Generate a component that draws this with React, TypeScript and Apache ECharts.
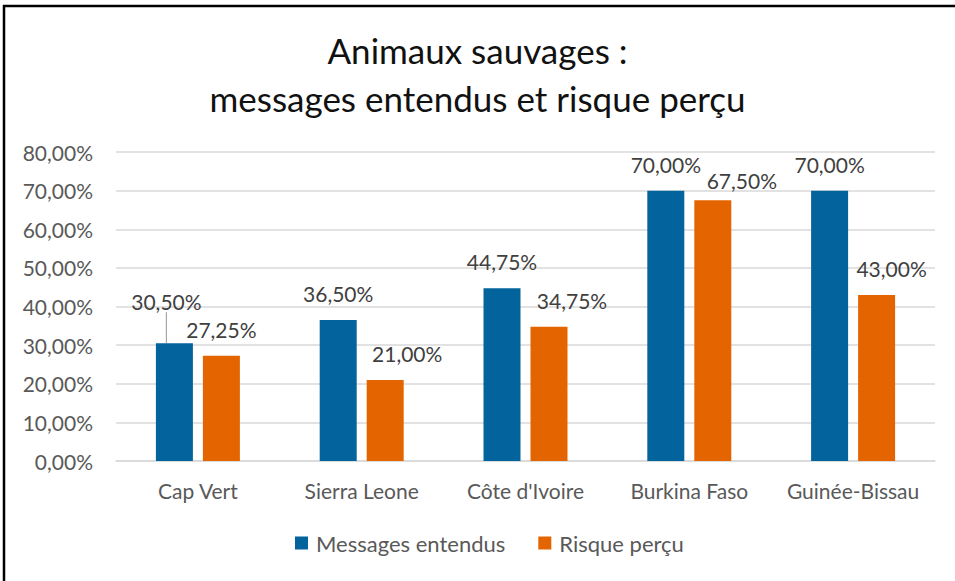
import React, { useEffect, useRef } from "react";
import * as echarts from "echarts";

const categories = ["Cap Vert", "Sierra Leone", "Côte d'Ivoire", "Burkina Faso", "Guinée-Bissau"];
const messagesEntendus = [30.5, 36.5, 44.75, 70, 70];
const risquePercu = [27.25, 21, 34.75, 67.5, 43];
const seriesNames = ["Messages entendus", "Risque perçu"];
const titleText = "Animaux sauvages :\nmessages entendus et risque perçu";

const FONT = "Lato, 'Open Sans', sans-serif";
const fmt = (v: number) => v.toFixed(2).replace(".", ",") + "%";

// label nudges (layout only), keyed by "series-index"
const labelShift: Record<string, { dx: number; dy: number }> = {
  "0-0": { dx: -8, dy: -15 },
  "1-1": { dx: 22, dy: 0 },
  "1-2": { dx: 23, dy: 0 },
  "1-3": { dx: 29, dy: 7 },
  "1-4": { dx: 15, dy: 0 },
};

export default function App() {
  const ref = useRef<HTMLDivElement>(null);
  useEffect(() => {
    if (!ref.current) return;
    const chart = echarts.init(ref.current, undefined, { renderer: "svg" });
    const labelCommon = {
      show: true,
      position: "top" as const,
      distance: 16,
      fontFamily: FONT,
      fontSize: 21,
      color: "#404040",
      formatter: (p: any) => fmt(p.value),
    };
    const layout = (params: any) => labelShift[`${params.seriesIndex}-${params.dataIndex}`] || {};
    chart.setOption({
      animation: false,
      backgroundColor: "#ffffff",
      textStyle: { fontFamily: FONT },
      title: {
        text: titleText,
        left: "center",
        top: 26,
        padding: 0,
        textStyle: {
          fontFamily: FONT,
          fontSize: 35,
          lineHeight: 48,
          fontWeight: "normal",
          color: "#111111",
        },
      },
      graphic: [
        { type: "line", shape: { x1: 3, y1: 6, x2: 955, y2: 6 }, style: { stroke: "#000", lineWidth: 2.5 } },
        { type: "line", shape: { x1: 4, y1: 5, x2: 4, y2: 581 }, style: { stroke: "#000", lineWidth: 2.5 } },
      ],
      legend: {
        data: seriesNames,
        bottom: 22,
        left: 290,
        icon: "rect",
        itemWidth: 13,
        itemHeight: 13,
        itemGap: 33,
        textStyle: { fontFamily: FONT, fontSize: 22, color: "#595959", padding: [0, 0, 0, 3] },
      },
      grid: { left: 116, right: 20, top: 152, bottom: 120, containLabel: false },
      xAxis: {
        type: "category",
        data: categories,
        axisLine: { lineStyle: { color: "#D9D9D9", width: 1.5 } },
        axisTick: { show: false },
        axisLabel: { interval: 0, fontFamily: FONT, fontSize: 21, color: "#595959", margin: 19 },
      },
      yAxis: {
        type: "value",
        min: 0,
        max: 80,
        interval: 10,
        axisLine: { show: false },
        axisTick: { show: false },
        splitLine: { lineStyle: { color: "#D9D9D9", width: 1.5 } },
        axisLabel: { fontFamily: FONT, fontSize: 21, color: "#595959", margin: 23, formatter: (v: number) => fmt(v) },
      },
      series: [
        {
          name: seriesNames[0],
          type: "bar",
          barWidth: 37,
          barGap: "27%",
          itemStyle: { color: "#03639C" },
          label: labelCommon,
          labelLayout: layout,
          data: messagesEntendus.map((v, i) =>
            i === 0 ? { value: v, labelLine: { show: true, lineStyle: { color: "#A6A6A6", width: 1.2 } } } : v
          ),
        },
        {
          name: seriesNames[1],
          type: "bar",
          barWidth: 37,
          barGap: "27%",
          itemStyle: { color: "#E46500" },
          label: labelCommon,
          labelLayout: layout,
          data: risquePercu,
        },
      ],
    });
    return () => chart.dispose();
  }, []);
  return <div ref={ref} style={{ position: "fixed", left: 0, top: 0, width: 955, height: 581 }} />;
}
